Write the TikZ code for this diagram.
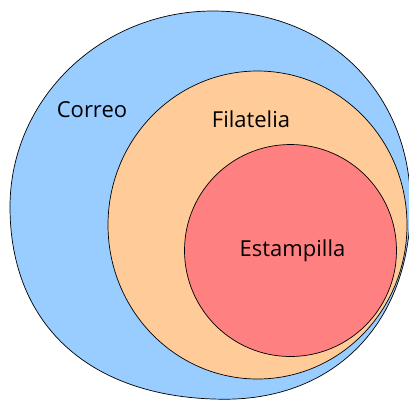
\documentclass[tikz,border=0pt]{standalone}
\usepackage{fontspec}
\setmainfont{Open Sans}
\definecolor{correoblue}{HTML}{99CCFF}
\definecolor{filaorange}{HTML}{FFCC99}
\definecolor{estared}{HTML}{FF8080}
\begin{document}
\begin{tikzpicture}[x=1pt,y=-1pt,
  setarea/.style={draw=black,line width=0.7pt},
  setlabel/.style={anchor=base,inner sep=0pt,font=\fontsize{22pt}{26pt}\selectfont,text=black}]
\useasboundingbox (0,0) rectangle (409,400);
\fill[white] (0,0) rectangle (409,400);
\draw[setarea,fill=correoblue] (213,11)
  .. controls (327.5,11) and (410.5,92.5) .. (410.5,205)
  .. controls (410.5,321.7) and (336,399.2) .. (225,399.2)
  .. controls (91.7,399.2) and (10,326.5) .. (10,207)
  .. controls (10,98.8) and (101,11) .. cycle;
\draw[setarea,fill=filaorange] (257.5,225) ellipse [x radius=149.5pt, y radius=154pt];
\draw[setarea,fill=estared] (290.5,250.5) circle [radius=106pt];
\node[setlabel] (correo) at (92,117) {Correo};
\node[setlabel] (filatelia) at (251,127) {Filatelia};
\node[setlabel] (estampilla) at (292.5,256) {Estampilla};
\end{tikzpicture}
\end{document}
